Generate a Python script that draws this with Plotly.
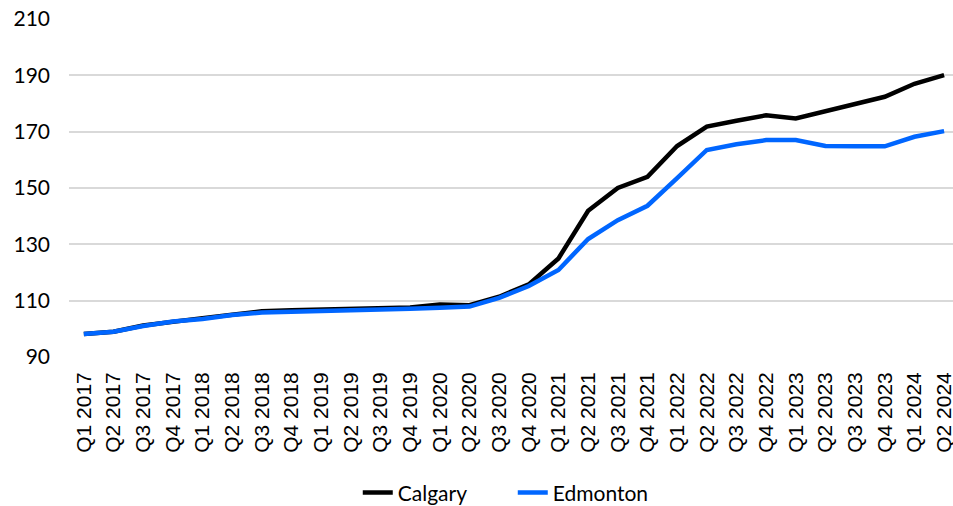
import plotly.graph_objects as go

# Quarterly index values, Q1 2017 - Q2 2024
quarters = [f"Q{q} {y}" for y in range(2017, 2025) for q in range(1, 5)][:30]

calgary = [98.2, 99.0, 101.2, 102.7, 103.8, 105.0, 106.2, 106.6, 106.9, 107.0,
           107.3, 107.6, 108.6, 108.4, 111.4, 115.8, 125.0, 141.9, 150.0, 154.0,
           164.9, 171.8, 173.9, 175.8, 174.7, 177.3, 179.5, 182.4, 187.0, 190.1]

edmonton = [98.2, 99.0, 101.0, 102.6, 103.5, 104.9, 105.8, 106.0, 106.1, 106.4,
            106.7, 107.1, 107.5, 107.9, 111.0, 115.2, 120.9, 131.9, 138.6, 143.7,
            153.5, 163.5, 165.5, 167.0, 167.0, 164.9, 164.8, 164.8, 168.2, 170.2]

y_ticks = [90, 110, 130, 150, 170, 190, 210]

fig = go.Figure()
fig.add_trace(go.Scatter(x=quarters, y=calgary, name="Calgary", mode="lines",
                         line=dict(color="#000000", width=4.5)))
fig.add_trace(go.Scatter(x=quarters, y=edmonton, name="Edmonton", mode="lines",
                         line=dict(color="#0066ff", width=4.5)))

fig.update_layout(
    width=953, height=506,
    margin=dict(l=69, r=0, t=19, b=149, autoexpand=False),
    paper_bgcolor="white", plot_bgcolor="white",
    font=dict(family="Lato", size=21, color="#000000"),
    showlegend=True,
    legend=dict(orientation="h", x=0.502, xanchor="center",
                yref="container", y=0.026, yanchor="middle",
                font=dict(family="Lato", size=21), entrywidth=110,
                tracegroupgap=0),
    xaxis=dict(type="category", range=[-0.5, 29.3], tickangle=-90,
               showgrid=False, showline=False, zeroline=False,
               tickfont=dict(family="Liberation Sans", size=21),
               ticklabelstandoff=10, fixedrange=True),
    yaxis=dict(range=[90, 210], tickvals=y_ticks, showgrid=True,
               gridcolor="#d9d9d9", gridwidth=1.5, zeroline=False, showline=False,
               tickfont=dict(family="Lato", size=21), ticklabelstandoff=18,
               fixedrange=True),
)

fig.write_html("out.html")
